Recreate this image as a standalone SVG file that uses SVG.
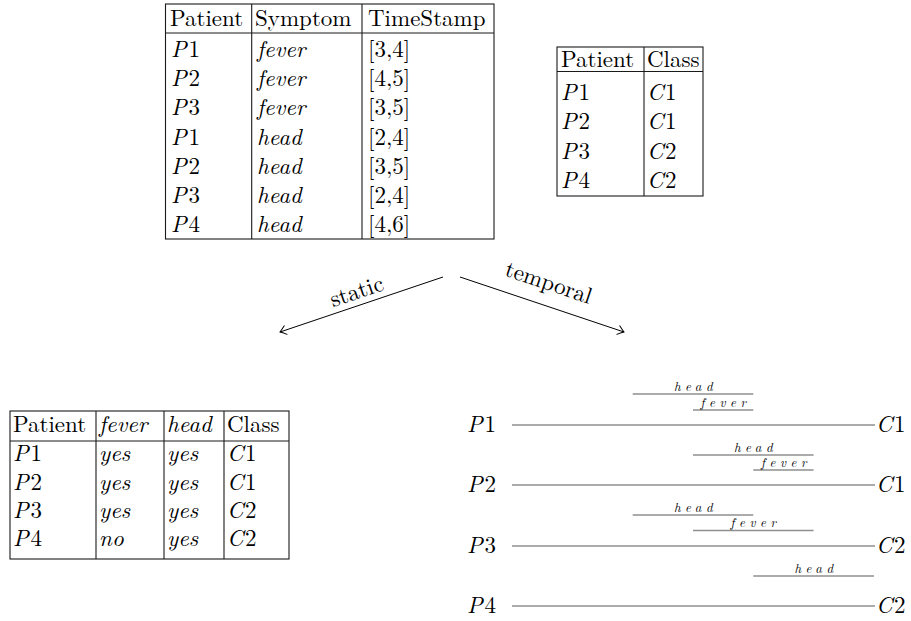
<svg xmlns="http://www.w3.org/2000/svg" width="911" height="621" viewBox="0 0 911 621" font-family="Latin Modern Roman, Liberation Serif, serif">
<style>
text{font-size:23px;fill:#000}
.i{font-style:italic}
.b{fill:none;stroke:#1a1a1a;stroke-width:1.1}
.tl{stroke:#8f8f8f;stroke-width:1.3}
.sm{font-size:13px;font-style:italic;letter-spacing:4.5px;text-anchor:middle;fill:#000}
.ar{fill:none;stroke:#000;stroke-width:1}
</style>
<defs>
<marker id="arr" markerUnits="userSpaceOnUse" markerWidth="14" markerHeight="14" viewBox="-8 -7 10 14" refX="0" refY="0" orient="auto">
<path d="M-6,-4.5 Q-2,-1.2 0,0 Q-2,1.2 -6,4.5" fill="none" stroke="#000" stroke-width="1" stroke-linecap="round"/>
</marker>
</defs>
<rect width="911" height="621" fill="#fff"/>

<g id="table-events">
<rect class="b" x="165.5" y="4" width="328.5" height="235"/>
<line class="b" x1="165.5" y1="33" x2="494" y2="33"/>
<line class="b" x1="251.7" y1="4" x2="251.7" y2="239"/>
<line class="b" x1="362" y1="4" x2="362" y2="239" stroke-width="1.6"/>
<text x="170" y="26">Patient</text><text x="255" y="26">Symptom</text><text x="368" y="26">TimeStamp</text>
<text x="171" y="57"><tspan class="i">P</tspan><tspan dx="2">1</tspan></text><text class="i" x="257" y="57">fever</text><text x="368" y="57">[3,4]</text>
<text x="171" y="86.2"><tspan class="i">P</tspan><tspan dx="2">2</tspan></text><text class="i" x="257" y="86.2">fever</text><text x="368" y="86.2">[4,5]</text>
<text x="171" y="115.3"><tspan class="i">P</tspan><tspan dx="2">3</tspan></text><text class="i" x="257" y="115.3">fever</text><text x="368" y="115.3">[3,5]</text>
<text x="171" y="144.5"><tspan class="i">P</tspan><tspan dx="2">1</tspan></text><text class="i" x="257" y="144.5">head</text><text x="368" y="144.5">[2,4]</text>
<text x="171" y="173.7"><tspan class="i">P</tspan><tspan dx="2">2</tspan></text><text class="i" x="257" y="173.7">head</text><text x="368" y="173.7">[3,5]</text>
<text x="171" y="202.8"><tspan class="i">P</tspan><tspan dx="2">3</tspan></text><text class="i" x="257" y="202.8">head</text><text x="368" y="202.8">[2,4]</text>
<text x="171" y="232"><tspan class="i">P</tspan><tspan dx="2">4</tspan></text><text class="i" x="257" y="232">head</text><text x="368" y="232">[4,6]</text>
</g>

<g id="table-class">
<rect class="b" x="557" y="47" width="146" height="149"/>
<line class="b" x1="557" y1="71.5" x2="703" y2="71.5"/>
<line class="b" x1="644" y1="47" x2="644" y2="196"/>
<text x="561" y="67">Patient</text><text x="647" y="67">Class</text>
<text x="561" y="100"><tspan class="i">P</tspan><tspan dx="2">1</tspan></text><text x="647" y="100"><tspan class="i">C</tspan><tspan dx="1.5">1</tspan></text>
<text x="561" y="129.3"><tspan class="i">P</tspan><tspan dx="2">2</tspan></text><text x="647" y="129.3"><tspan class="i">C</tspan><tspan dx="1.5">1</tspan></text>
<text x="561" y="158.6"><tspan class="i">P</tspan><tspan dx="2">3</tspan></text><text x="647" y="158.6"><tspan class="i">C</tspan><tspan dx="1.5">2</tspan></text>
<text x="561" y="188"><tspan class="i">P</tspan><tspan dx="2">4</tspan></text><text x="647" y="188"><tspan class="i">C</tspan><tspan dx="1.5">2</tspan></text>
</g>

<g id="connectors">
<line class="ar" x1="443" y1="277" x2="280" y2="332" marker-end="url(#arr)"/>
<line class="ar" x1="460" y1="277" x2="624" y2="332" marker-end="url(#arr)"/>
<text text-anchor="middle" transform="translate(359,298.5) rotate(-18.65)">static</text>
<text text-anchor="middle" transform="translate(546.4,289.7) rotate(18.65)">temporal</text>
</g>

<g id="table-static">
<rect class="b" x="10" y="411" width="279" height="148"/>
<line class="b" x1="10" y1="441" x2="289" y2="441"/>
<line class="b" x1="96" y1="411" x2="96" y2="559" stroke-width="1.5"/>
<line class="b" x1="164" y1="411" x2="164" y2="559" stroke-width="1.5"/>
<line class="b" x1="224" y1="411" x2="224" y2="559" stroke-width="1.5"/>
<text x="13" y="432">Patient</text><text class="i" x="99" y="432">fever</text><text class="i" x="167" y="432">head</text><text x="227" y="432">Class</text>
<text x="13" y="461"><tspan class="i">P</tspan><tspan dx="2">1</tspan></text><text class="i" x="99" y="461">yes</text><text class="i" x="167" y="461">yes</text><text x="227" y="461"><tspan class="i">C</tspan><tspan dx="1.5">1</tspan></text>
<text x="13" y="489.5"><tspan class="i">P</tspan><tspan dx="2">2</tspan></text><text class="i" x="99" y="489.5">yes</text><text class="i" x="167" y="489.5">yes</text><text x="227" y="489.5"><tspan class="i">C</tspan><tspan dx="1.5">1</tspan></text>
<text x="13" y="518"><tspan class="i">P</tspan><tspan dx="2">3</tspan></text><text class="i" x="99" y="518">yes</text><text class="i" x="167" y="518">yes</text><text x="227" y="518"><tspan class="i">C</tspan><tspan dx="1.5">2</tspan></text>
<text x="13" y="546"><tspan class="i">P</tspan><tspan dx="2">4</tspan></text><text class="i" x="99" y="546">no</text><text class="i" x="167" y="546">yes</text><text x="227" y="546"><tspan class="i">C</tspan><tspan dx="1.5">2</tspan></text>
</g>

<g id="timeline-p1">
<text x="467" y="432"><tspan class="i">P</tspan><tspan dx="2">1</tspan></text>
<line class="tl" x1="512" y1="425" x2="875" y2="425"/>
<text x="876" y="432"><tspan class="i">C</tspan><tspan dx="1.5">1</tspan></text>
<line class="tl" x1="632.7" y1="394" x2="753.3" y2="394"/>
<text class="sm" x="695.5" y="390.5">head</text>
<line class="tl" x1="693" y1="410" x2="753.3" y2="410"/>
<text class="sm" x="725.5" y="406.5">fever</text>
</g>

<g id="timeline-p2">
<text x="467" y="492"><tspan class="i">P</tspan><tspan dx="2">2</tspan></text>
<line class="tl" x1="512" y1="485" x2="875" y2="485"/>
<text x="876" y="492"><tspan class="i">C</tspan><tspan dx="1.5">1</tspan></text>
<line class="tl" x1="693" y1="455" x2="813.6" y2="455"/>
<text class="sm" x="755.5" y="451.5">head</text>
<line class="tl" x1="753.3" y1="470" x2="813.6" y2="470"/>
<text class="sm" x="786" y="466.5">fever</text>
</g>

<g id="timeline-p3">
<text x="467" y="553"><tspan class="i">P</tspan><tspan dx="2">3</tspan></text>
<line class="tl" x1="512" y1="546" x2="875" y2="546"/>
<text x="876" y="553"><tspan class="i">C</tspan><tspan dx="1.5">2</tspan></text>
<line class="tl" x1="632.7" y1="515" x2="753.3" y2="515"/>
<text class="sm" x="695.5" y="511.5">head</text>
<line class="tl" x1="693" y1="530.5" x2="813.6" y2="530.5"/>
<text class="sm" x="755.5" y="527">fever</text>
</g>

<g id="timeline-p4">
<text x="467" y="613"><tspan class="i">P</tspan><tspan dx="2">4</tspan></text>
<line class="tl" x1="512" y1="606" x2="875" y2="606"/>
<text x="876" y="613"><tspan class="i">C</tspan><tspan dx="1.5">2</tspan></text>
<line class="tl" x1="753.3" y1="576" x2="874" y2="576"/>
<text class="sm" x="816" y="572.5">head</text>
</g>
</svg>
